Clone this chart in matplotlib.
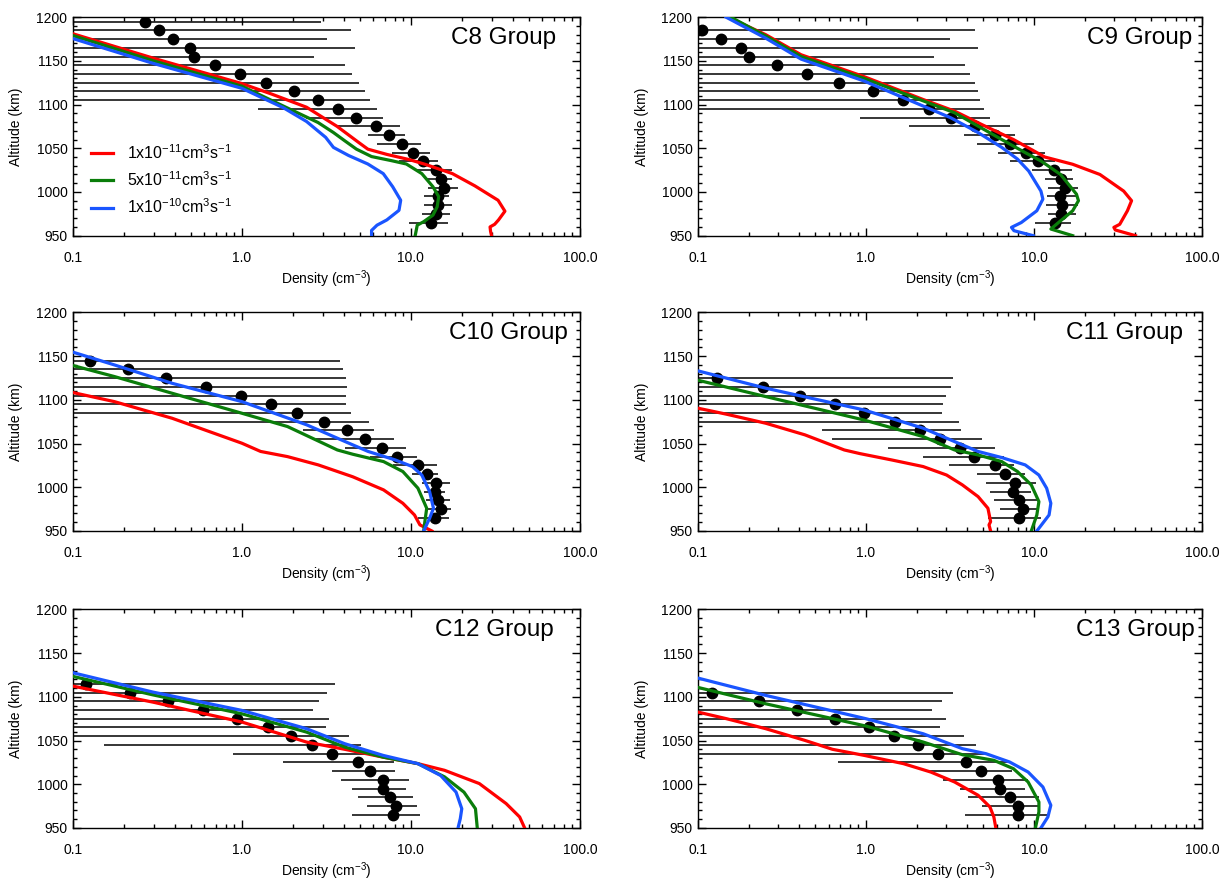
#==============================================================================
#IMPORT
#==============================================================================

import numpy as np
import matplotlib
matplotlib.use('Agg')
import matplotlib.pyplot as plt
from matplotlib.ticker import MultipleLocator, LogLocator, NullFormatter

#==============================================================================
#SETTINGS
#==============================================================================

plt.rcParams['font.family'] = ['Liberation Sans', 'DejaVu Sans']
plt.rcParams['mathtext.fontset'] = 'custom'
plt.rcParams['mathtext.rm'] = 'Liberation Sans'
plt.rcParams['mathtext.it'] = 'Liberation Sans:italic'
plt.rcParams['mathtext.bf'] = 'Liberation Sans:bold'

title_font = 17.5
tick_font = 10
label_font = 10
legend_font = 11.5

c_red = '#ff0000'
c_green = '#0a7d0a'
c_blue = '#1a55ff'

#==============================================================================
#DATA
#==============================================================================

groups = ['C8 Group', 'C9 Group', 'C10 Group', 'C11 Group', 'C12 Group', 'C13 Group']
legend_labels = [r'1x10$^{-11}$cm$^{3}$s$^{-1}$',
                 r'5x10$^{-11}$cm$^{3}$s$^{-1}$',
                 r'1x10$^{-10}$cm$^{3}$s$^{-1}$']

xtick_vals = [0.1, 1.0, 10.0, 100.0]
xtick_labels = ['0.1', '1.0', '10.0', '100.0']
ytick_vals = [950, 1000, 1050, 1100, 1150, 1200]

# observed profiles (altitude, density, error bar left/right ends)
c8_alt = [1195, 1185, 1175, 1165, 1155, 1145, 1135, 1125, 1115, 1105, 1095, 1085,
          1075, 1065, 1055, 1045, 1035, 1025, 1015, 1005, 995, 985, 975, 965]
c8_dens = [0.267, 0.324, 0.392, 0.491, 0.517, 0.693, 0.98, 1.38, 2.04, 2.82, 3.72, 4.76,
           6.18, 7.42, 8.82, 10.3, 11.8, 14.1, 15.0, 15.8, 14.5, 14.5, 14.1, 13.2]
c8_lo = [0.1, 0.1, 0.1, 0.1, 0.1, 0.1, 0.1, 0.1, 0.1, 0.1, 1.25, 2.41,
         3.66, 5.56, 6.34, 7.7, 8.46, 10.7, 12.5, 12.7, 11.9, 11.9, 11.6, 9.8]
c8_hi = [2.94, 4.40, 3.18, 4.68, 2.67, 4.06, 4.47, 4.91, 5.37, 5.74, 6.28, 6.86,
         8.59, 9.25, 11.5, 13.0, 14.4, 17.6, 17.6, 19.0, 16.9, 17.6, 17.1, 16.5]

c9_alt = [1185, 1175, 1165, 1155, 1145, 1135, 1125, 1115, 1105, 1095, 1085, 1075,
          1065, 1055, 1045, 1035, 1025, 1015, 1005, 995, 985, 975, 965]
c9_dens = [0.105, 0.138, 0.181, 0.201, 0.294, 0.445, 0.693, 1.10, 1.67, 2.37, 3.19, 4.45,
           5.86, 7.23, 8.98, 10.5, 13.2, 14.4, 15.2, 14.3, 14.6, 14.4, 13.3]
c9_lo = [0.1, 0.1, 0.1, 0.1, 0.1, 0.1, 0.1, 0.1, 0.1, 0.1, 0.922, 1.81,
         3.85, 4.60, 6.09, 7.16, 9.79, 11.6, 12.1, 11.9, 11.8, 12.1, 10.2]
c9_hi = [4.48, 3.15, 4.65, 2.54, 3.91, 4.18, 4.48, 4.65, 4.78, 5.04, 5.47, 7.16,
         7.76, 10.0, 11.6, 13.3, 16.8, 17.0, 18.4, 18.0, 18.2, 17.9, 16.5]

c10_alt = [1145, 1135, 1125, 1115, 1105, 1095, 1085, 1075, 1065, 1055,
           1045, 1035, 1025, 1015, 1005, 995, 985, 975, 965]
c10_dens = [0.127, 0.213, 0.357, 0.610, 0.982, 1.48, 2.13, 3.08, 4.17, 5.36,
            6.72, 8.32, 11.0, 12.5, 14.1, 13.9, 14.5, 15.0, 13.8]
c10_lo = [0.1, 0.1, 0.1, 0.1, 0.1, 0.1, 0.1, 0.489, 2.29, 2.76,
          4.08, 5.74, 7.85, 10.2, 11.6, 11.9, 12.3, 12.6, 11.0]
c10_hi = [3.78, 3.98, 4.15, 4.19, 4.15, 4.15, 4.42, 5.65, 6.05, 7.94,
          9.29, 10.9, 14.2, 14.4, 17.0, 16.0, 17.0, 17.3, 16.8]

c11_alt = [1125, 1115, 1105, 1095, 1085, 1075, 1065, 1055, 1045,
           1035, 1025, 1015, 1005, 995, 985, 975, 965]
c11_dens = [0.129, 0.243, 0.406, 0.653, 0.973, 1.48, 2.10, 2.75, 3.61,
            4.41, 5.83, 6.71, 7.76, 7.55, 8.1, 8.55, 8.19]
c11_lo = [0.1, 0.1, 0.1, 0.1, 0.1, 0.1, 0.547, 0.626, 1.36,
          2.19, 3.10, 4.6, 5.18, 5.47, 5.77, 6.25, 5.32]
c11_hi = [3.31, 3.22, 2.99, 2.86, 2.83, 3.59, 3.69, 4.91, 5.83,
          6.6, 7.64, 8.79, 10.3, 9.64, 10.4, 10.7, 11.0]

c12_alt = [1115, 1105, 1095, 1085, 1075, 1065, 1055, 1045,
           1035, 1025, 1015, 1005, 995, 985, 975, 965]
c12_dens = [0.119, 0.217, 0.366, 0.587, 0.939, 1.43, 1.95, 2.61,
            3.39, 4.88, 5.71, 6.79, 6.79, 7.54, 8.15, 7.82]
c12_lo = [0.1, 0.1, 0.1, 0.1, 0.1, 0.1, 0.1, 0.152,
          0.882, 1.76, 3.39, 3.86, 4.47, 4.88, 5.51, 4.47]
c12_hi = [3.56, 3.18, 2.85, 2.65, 3.26, 3.13, 4.33, 5.07,
          6.34, 7.94, 8.03, 9.79, 9.29, 10.3, 10.9, 11.3]

c13_alt = [1105, 1095, 1085, 1075, 1065, 1055, 1045, 1035,
           1025, 1015, 1005, 995, 985, 975, 965]
c13_dens = [0.122, 0.231, 0.389, 0.653, 1.04, 1.47, 2.03, 2.68,
            3.96, 4.85, 6.09, 6.25, 7.16, 8.06, 7.98]
c13_lo = [0.1, 0.1, 0.1, 0.1, 0.1, 0.1, 0.1, 0.1,
          0.678, 2.37, 2.86, 3.61, 4.06, 4.91, 3.89]
c13_hi = [3.31, 2.83, 2.47, 2.99, 2.75, 3.85, 4.53, 5.18,
          7.16, 7.36, 9.27, 8.87, 10.7, 10.9, 11.9]

# model profiles: red = 1e-11, green = 5e-11, blue = 1e-10
c8_red_x = [0.1, 0.3, 1.0, 1.5, 2.41, 3.66, 4.88, 5.56, 7.2, 9.8, 12.2, 17.6, 23.9, 32.8, 36.0, 33.0, 31.3, 29.4, 29.6, 30.0]
c8_red_y = [1181, 1153, 1124, 1112, 1097, 1075, 1057, 1049, 1043, 1037, 1031.5, 1021, 1007, 990.5, 978, 968, 963, 960, 955, 950]
c8_green_x = [0.1, 0.3, 1.0, 1.75, 2.82, 3.48, 4.05, 4.76, 5.85, 7.6, 9.4, 11.6, 13.5, 14.6, 14.3, 13.5, 11.9, 10.9, 10.6]
c8_green_y = [1179, 1150, 1121, 1098.5, 1079.5, 1068, 1058.7, 1049, 1040.5, 1036, 1032, 1021, 1006, 994.7, 983, 973.5, 966, 962, 950]
c8_blue_x = [0.1, 0.3, 1.0, 1.75, 2.41, 3.13, 3.48, 4.28, 5.56, 6.86, 7.8, 8.7, 8.5, 7.2, 6.3, 5.85, 5.85]
c8_blue_y = [1175.5, 1147, 1118.6, 1096.6, 1080.7, 1062.5, 1051, 1041.7, 1032, 1021, 1006, 990.5, 979, 968, 962, 956, 950]

c9_red_x = [0.151, 0.253, 0.411, 0.973, 2.19, 3.37, 4.91, 7.55, 11.6, 17.0, 24.7, 34.2, 38.1, 36.0, 32.4, 29.9, 30.5, 40.2]
c9_red_y = [1200, 1180, 1157, 1132, 1105.8, 1092.5, 1077, 1060, 1040, 1031.7, 1020, 1001, 990, 978.5, 963, 959.5, 956.5, 950]
c9_green_x = [0.157, 0.253, 0.411, 0.973, 3.37, 6.43, 8.87, 11.0, 14.4, 17.9, 18.4, 17.0, 14.4, 12.6, 17.0]
c9_green_y = [1200, 1178.5, 1155, 1130, 1090.6, 1060, 1045, 1035.5, 1020, 997.5, 990, 978.5, 967, 957.6, 950]
c9_blue_x = [0.147, 0.253, 0.411, 0.973, 3.19, 4.65, 6.43, 7.98, 9.3, 11.0, 11.3, 10.4, 8.4, 7.35, 7.6, 9.9]
c9_blue_y = [1200, 1176, 1152, 1127, 1085, 1068, 1051, 1037.6, 1024, 1001, 991.8, 978.5, 965, 959.5, 955.7, 950]

c10_red_x = [0.1, 0.176, 0.386, 1.0, 1.29, 1.86, 2.83, 4.53, 6.89, 8.96, 10.5, 11.3, 13.3]
c10_red_y = [1108.4, 1098, 1079, 1050.4, 1041, 1035.1, 1025.6, 1012, 997, 981.7, 968.3, 957, 950]
c10_green_x = [0.1, 0.176, 0.386, 1.0, 1.86, 3.67, 4.53, 6.89, 8.96, 11.0, 12.4, 12.1, 11.9]
c10_green_y = [1139.3, 1126.7, 1107.6, 1084.7, 1069.5, 1042.7, 1037.8, 1029.4, 1018, 999, 976, 961, 950]
c10_blue_x = [0.1, 0.176, 0.386, 1.0, 2.42, 4.08, 5.58, 8.07, 10.2, 11.6, 12.9, 13.6, 12.9, 11.9]
c10_blue_y = [1154.6, 1140, 1119, 1098, 1071.4, 1052.3, 1041, 1031.3, 1023.7, 1014, 995, 976, 964.5, 950]

c11_red_x = [0.1, 0.148, 0.253, 0.433, 0.743, 0.922, 1.42, 2.19, 3.02, 3.75, 4.65, 5.32, 5.52, 5.4, 5.52]
c11_red_y = [1090.5, 1083.6, 1073.3, 1060, 1042.7, 1038.5, 1031.3, 1023.7, 1014, 1002.7, 989.3, 976, 960.7, 957, 950]
c11_green_x = [0.1, 0.253, 0.973, 2.19, 3.37, 4.65, 6.43, 7.98, 9.64, 10.7, 10.4, 9.64]
c11_green_y = [1122.5, 1103.8, 1077, 1058, 1042.7, 1037, 1029.4, 1018, 1002.7, 983.6, 968.3, 950]
c11_blue_x = [0.1, 0.253, 0.973, 2.19, 3.55, 4.65, 6.43, 8.87, 10.7, 11.9, 12.6, 12.3, 10.4]
c11_blue_y = [1133.2, 1113.4, 1088.5, 1067.6, 1050.4, 1041, 1034, 1025.6, 1014, 998.9, 981.7, 968.3, 950]

c12_red_x = [0.1, 0.297, 1.0, 2.41, 4.06, 6.86, 11.0, 15.8, 25.4, 36.6, 44.0, 47.1]
c12_red_y = [1112.3, 1094, 1071.2, 1048.3, 1040, 1031, 1023.6, 1016, 1000.8, 977.9, 962.6, 950]
c12_green_x = [0.1, 0.297, 1.0, 2.41, 4.06, 6.86, 11.0, 15.8, 20.6, 24.1, 24.7]
c12_green_y = [1123.4, 1102.3, 1080.6, 1059.7, 1042.5, 1031, 1023.6, 1008.5, 991, 972, 950]
c12_blue_x = [0.1, 0.297, 1.0, 2.41, 4.06, 6.86, 11.0, 15.0, 18.5, 20.0, 19.6, 19.0]
c12_blue_y = [1127.6, 1105.5, 1084.5, 1063.6, 1046.4, 1033, 1023.6, 1010, 991, 972, 960.7, 950]

c13_red_x = [0.1, 0.148, 0.253, 0.433, 0.632, 0.973, 1.67, 2.43, 3.37, 4.65, 5.47, 5.77, 5.93]
c13_red_y = [1082.6, 1075, 1063.6, 1050.2, 1040, 1033.1, 1023.6, 1014, 1002.6, 987.4, 974, 962.6, 950]
c13_green_x = [0.1, 0.253, 1.0, 2.19, 3.75, 5.77, 7.55, 9.23, 10.7, 10.7, 10.2]
c13_green_y = [1110.8, 1092.1, 1066.6, 1048.3, 1033.8, 1027.4, 1017.8, 1002.6, 979.7, 968.3, 950]
c13_blue_x = [0.1, 0.253, 1.0, 2.19, 3.75, 5.18, 7.16, 9.23, 11.3, 12.6, 12.1, 11.0]
c13_blue_y = [1121.5, 1101.7, 1075, 1057.8, 1040.7, 1035, 1025.5, 1014, 996.9, 976, 962.6, 950]

obs = [(c8_alt, c8_dens, c8_lo, c8_hi), (c9_alt, c9_dens, c9_lo, c9_hi),
       (c10_alt, c10_dens, c10_lo, c10_hi), (c11_alt, c11_dens, c11_lo, c11_hi),
       (c12_alt, c12_dens, c12_lo, c12_hi), (c13_alt, c13_dens, c13_lo, c13_hi)]
models = [[(c8_red_x, c8_red_y), (c8_green_x, c8_green_y), (c8_blue_x, c8_blue_y)],
          [(c9_red_x, c9_red_y), (c9_green_x, c9_green_y), (c9_blue_x, c9_blue_y)],
          [(c10_red_x, c10_red_y), (c10_green_x, c10_green_y), (c10_blue_x, c10_blue_y)],
          [(c11_red_x, c11_red_y), (c11_green_x, c11_green_y), (c11_blue_x, c11_blue_y)],
          [(c12_red_x, c12_red_y), (c12_green_x, c12_green_y), (c12_blue_x, c12_blue_y)],
          [(c13_red_x, c13_red_y), (c13_green_x, c13_green_y), (c13_blue_x, c13_blue_y)]]

title_x = [0.953, 0.981, 0.976, 0.963, 0.949, 0.985]

#=============================================================================
#PLOT
#=============================================================================

f = plt.figure(figsize=(12.26, 8.81), dpi=100)

col_left = [0.0595, 0.5693]
col_width = [0.4135, 0.4111]
row_bottom = [0.7325, 0.3973, 0.0602]
row_height = 0.248

colors = [c_red, c_green, c_blue]

for i in range(6):
    r, c = i // 2, i % 2
    ax = f.add_axes([col_left[c], row_bottom[r], col_width[c], row_height])

    alt, dens, lo, hi = obs[i]
    ax.hlines(alt, lo, hi, color='black', linewidth=1.1, zorder=2)
    ax.plot(dens, alt, 'o', color='black', markersize=7.5, zorder=3)

    for (mx, my), col, lab in zip(models[i], colors, legend_labels):
        ax.plot(mx, my, color=col, linewidth=2.3, label=lab, zorder=4)

    ax.set_xscale('log')
    ax.set_xlim(0.1, 100)
    ax.set_ylim(950, 1200)

    ax.set_xticks(xtick_vals)
    ax.set_xticklabels(xtick_labels)
    ax.xaxis.set_minor_locator(LogLocator(base=10, subs=np.arange(2, 10)))
    ax.xaxis.set_minor_formatter(NullFormatter())
    ax.set_yticks(ytick_vals)
    ax.yaxis.set_minor_locator(MultipleLocator(10))

    ax.tick_params(which='both', direction='in', top=True, right=True,
                   labelsize=tick_font, color='black', labelcolor='black')
    ax.tick_params(which='major', length=6, width=1.0)
    ax.tick_params(which='minor', length=3, width=1.0)
    ax.tick_params(axis='x', which='major', pad=11)
    ax.tick_params(axis='y', which='major', pad=4)
    for s in ax.spines.values():
        s.set_linewidth(1.0)

    ax.set_xlabel(r'Density (cm$^{-3}$)', fontsize=label_font)
    ax.set_ylabel('Altitude (km)', fontsize=label_font)
    ax.xaxis.set_label_coords(0.5, -0.15)
    ax.yaxis.set_label_coords(-0.098, 0.5)

    ax.text(title_x[i], 0.905, groups[i], transform=ax.transAxes,
            fontsize=title_font, ha='right', va='center')

    if i == 0:
        ax.legend(loc='upper left', bbox_to_anchor=(0.035, 0.425), frameon=False,
                  fontsize=legend_font, handlelength=1.4, handletextpad=0.85,
                  labelspacing=0.55, borderpad=0, borderaxespad=0)

f.savefig('out.png', dpi=100)
